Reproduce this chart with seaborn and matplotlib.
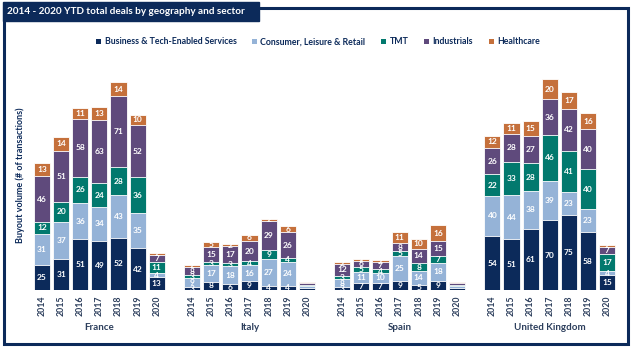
import numpy as np
import pandas as pd
import matplotlib
matplotlib.use("Agg")
import matplotlib.pyplot as plt
from matplotlib.patches import Rectangle, Patch
import seaborn as sns

# ---------------- data ----------------
countries = ["France", "Italy", "Spain", "United Kingdom"]
years = ["2014", "2015", "2016", "2017", "2018", "2019", "2020"]
sectors = ["Business & Tech-Enabled Services", "Consumer, Leisure & Retail",
           "TMT", "Industrials", "Healthcare"]

france_bts = [25, 31, 51, 49, 52, 42, 13]
france_clr = [31, 37, 36, 34, 43, 35, 4]
france_tmt = [12, 20, 26, 24, 28, 36, 11]
france_ind = [46, 51, 58, 63, 71, 52, 7]
france_hc = [13, 14, 11, 13, 14, 10, 2]

italy_bts = [3, 8, 6, 9, 4, 4, 2]
italy_clr = [9, 17, 18, 16, 27, 24, 2]
italy_tmt = [3, 3, 3, 4, 9, 4, 1]
italy_ind = [8, 15, 17, 20, 29, 26, 2]
italy_hc = [2, 5, 2, 6, 2, 6, 1]

spain_bts = [3, 7, 7, 9, 5, 9, 2]
spain_clr = [8, 11, 10, 25, 14, 18, 2]
spain_tmt = [3, 5, 4, 5, 8, 7, 1]
spain_ind = [12, 6, 7, 8, 14, 15, 2]
spain_hc = [2, 2, 2, 11, 10, 16, 1]

uk_bts = [54, 51, 61, 70, 75, 58, 15]
uk_clr = [40, 44, 38, 39, 23, 23, 4]
uk_tmt = [22, 33, 28, 46, 41, 40, 17]
uk_ind = [26, 28, 27, 36, 42, 40, 7]
uk_hc = [12, 11, 15, 20, 17, 16, 2]

colors = ["#0c2a5a", "#95b3d7", "#02796e", "#5f4a7c", "#c5703b"]
NAVY = "#0c2a5a"

series = {
    "France": [france_bts, france_clr, france_tmt, france_ind, france_hc],
    "Italy": [italy_bts, italy_clr, italy_tmt, italy_ind, italy_hc],
    "Spain": [spain_bts, spain_clr, spain_tmt, spain_ind, spain_hc],
    "United Kingdom": [uk_bts, uk_clr, uk_tmt, uk_ind, uk_hc],
}

GROUP_STEP = 7.85
rows = []
for g, c in enumerate(countries):
    for i, y in enumerate(years):
        pos = round(g * GROUP_STEP + i, 3)
        cum = 0
        for s_idx, s in enumerate(sectors):
            v = series[c][s_idx][i]
            rows.append(dict(country=c, year=y, pos=pos, sector=s,
                             value=v, bottom=cum, top=cum + v))
            cum += v
df = pd.DataFrame(rows)

# ---------------- figure ----------------
sns.set_theme(style="white")
plt.rcParams["font.family"] = ["Lato", "DejaVu Sans"]

W, H = 632, 348
fig = plt.figure(figsize=(W / 100, H / 100), dpi=100)

ax_left, ax_right = 25, 622
ax_base, ax_topp = 290, 50
ax = fig.add_axes([ax_left / W, 1 - ax_base / H,
                   (ax_right - ax_left) / W, (ax_base - ax_topp) / H])

# stacked bars: draw cumulative tops from the top series down
for s_idx in range(len(sectors) - 1, -1, -1):
    sub = df[df["sector"] == sectors[s_idx]]
    sns.barplot(data=sub, x="pos", y="top", native_scale=True, width=0.84,
                color=colors[s_idx], saturation=1, edgecolor="white",
                linewidth=0.6, errorbar=None, ax=ax)

# value labels
for _, r in df.iterrows():
    if r["year"] == "2020" and r["country"] in ("Italy", "Spain"):
        continue
    v = r["value"]
    if v < 2:
        continue
    ax.text(r["pos"], r["bottom"] + v / 2, f"{v}", ha="center", va="center",
            color="white", fontsize=6.0, fontweight="bold")

ax.set_ylim(0, 240)
xpos = sorted(df["pos"].unique())
ax.set_xlim(-0.89, 30.33)
ax.set_xticks(xpos)
ax.set_xticklabels(years * len(countries), rotation=90, fontsize=6.3,
                   fontweight="bold", color="#2c3e5c")
ax.tick_params(axis="x", length=0, pad=4)
ax.set_yticks([])
ax.set_xlabel("")
ax.set_ylabel("")
for sp in ax.spines.values():
    sp.set_visible(False)

# group labels
for g, c in enumerate(countries):
    xc = g * GROUP_STEP + 3
    ax.text(xc, -38, c, ha="center", va="center", fontsize=7,
            fontweight="bold", color="#2c3e5c", clip_on=False)

# y label
fig.text(20 / W, 1 - 175 / H, "Buyout volume (# of transactions)",
         rotation=90, ha="center", va="center", fontsize=6.5,
         fontweight="bold", color=NAVY)

# legend
handles = [Patch(facecolor=col, edgecolor="none") for col in colors]
leg = fig.legend(handles, sectors, loc="center",
                 bbox_to_anchor=(318 / W, 1 - 42 / H),
                 ncol=5, frameon=False, handlelength=0.55,
                 handleheight=0.55, handletextpad=0.4, columnspacing=1.8,
                 prop={"weight": "bold", "size": 6.3})
for t in leg.get_texts():
    t.set_color(NAVY)

# outer frame
fig.add_artist(Rectangle((4 / W, 4 / H), (W - 8) / W, (H - 12) / H,
                         transform=fig.transFigure, fill=False,
                         edgecolor=NAVY, linewidth=2.2))
# title box
fig.add_artist(Rectangle((3 / W, 1 - 21 / H), 256 / W, 19 / H,
                         transform=fig.transFigure, facecolor=NAVY,
                         edgecolor=NAVY, linewidth=1))
fig.text(7 / W, 1 - 11.5 / H, "2014 - 2020 YTD total deals by geography and sector",
         ha="left", va="center", fontsize=7.2, fontweight="bold", color="white")

fig.savefig("out.png", dpi=100)
